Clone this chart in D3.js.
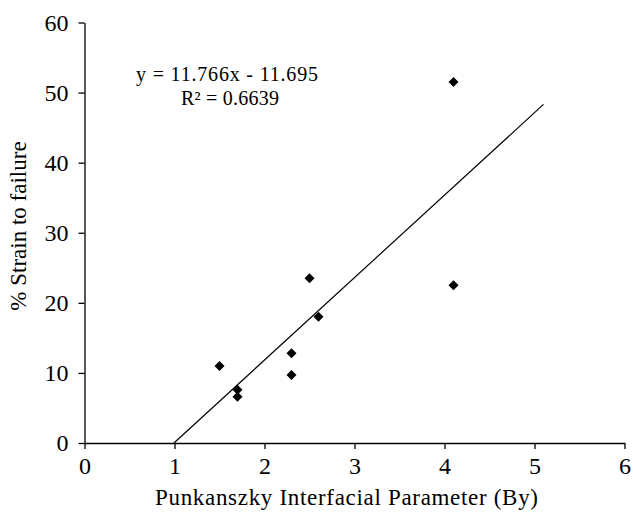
<!DOCTYPE html>
<html>
<head>
	<script src="https://cdn.jsdelivr.net/npm/d3@7"></script>
	<style>
		html, body {
			padding: 0;
			margin: 0;
			background: white;
		}
	</style>
</head>
<body>
	<script>
		var width = 633, height = 513;

		// data
		var byValues = [1.5, 1.7, 1.7, 2.3, 2.3, 2.5, 2.6, 4.1, 4.1];
		var strainValues = [11.0, 7.6, 6.6, 12.8, 9.7, 23.5, 18.0, 51.5, 22.5];
		var xTicks = [0, 1, 2, 3, 4, 5, 6];
		var yTicks = [0, 10, 20, 30, 40, 50, 60];
		var slope = 11.766, intercept = -11.695;
		var trendRange = [-intercept / slope, 5.1];

		var svg = d3.select('body').append('svg')
			.attr('width', width)
			.attr('height', height)
			.style('font-family', '"Liberation Serif", serif');

		var x = d3.scaleLinear().domain([0, 6]).range([84.5, 624.5]);
		var y = d3.scaleLinear().domain([0, 60]).range([443, 22.5]);

		// axes
		var xAxis = svg.append('g')
			.attr('transform', 'translate(0,' + y(0) + ')')
			.call(d3.axisBottom(x).tickValues(xTicks).tickFormat(d3.format('d'))
				.tickSize(6).tickPadding(6).tickSizeOuter(0));
		var yAxis = svg.append('g')
			.attr('transform', 'translate(' + x(0) + ',0)')
			.call(d3.axisLeft(y).tickValues(yTicks).tickFormat(d3.format('d'))
				.tickSize(6).tickPadding(10).tickSizeOuter(0));

		svg.selectAll('.domain, .tick line').attr('stroke', '#000').attr('stroke-width', 1.3);
		svg.selectAll('.tick text')
			.attr('fill', '#000')
			.style('font-family', '"Liberation Serif", serif')
			.style('font-size', '24px');
		xAxis.selectAll('.tick text').attr('dy', '0.78em');
		yAxis.selectAll('.tick text').attr('dy', '0.33em');

		// trendline
		svg.append('line')
			.attr('x1', x(trendRange[0]))
			.attr('y1', y(slope * trendRange[0] + intercept))
			.attr('x2', x(trendRange[1]))
			.attr('y2', y(slope * trendRange[1] + intercept))
			.attr('stroke', '#000')
			.attr('stroke-width', 1.2);

		// points as diamonds
		svg.selectAll('path.pt')
			.data(byValues)
			.enter().append('path')
			.attr('class', 'pt')
			.attr('d', d3.symbol().type(d3.symbolDiamond2).size(64))
			.attr('transform', function(d, i) { return 'translate(' + x(d) + ',' + y(strainValues[i]) + ')'; })
			.attr('fill', '#000');

		// equation
		svg.append('text')
			.attr('x', 136).attr('y', 81)
			.attr('textLength', 182)
			.style('font-size', '20px')
			.text('y = 11.766x - 11.695');
		svg.append('text')
			.attr('x', 181).attr('y', 105)
			.attr('textLength', 98)
			.style('font-size', '20px')
			.text('R\u00b2 = 0.6639');

		// axis titles
		svg.append('text')
			.attr('x', 155).attr('y', 505)
			.attr('textLength', 383)
			.style('font-size', '23px')
			.text('Punkanszky Interfacial Parameter (By)');
		svg.append('text')
			.attr('transform', 'translate(26,226) rotate(-90)')
			.attr('text-anchor', 'middle')
			.style('font-size', '23px')
			.text('% Strain to failure');
	</script>
</body>
</html>
